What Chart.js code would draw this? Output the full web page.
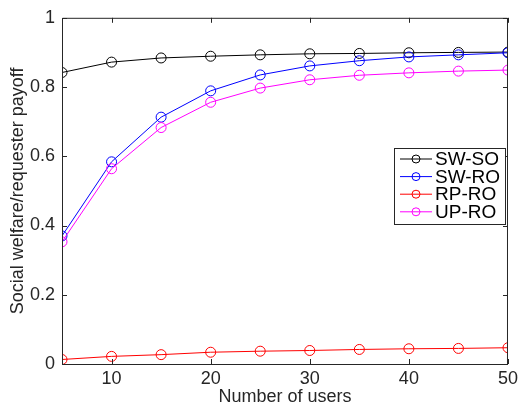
<!DOCTYPE html>
<html>
<head>
<meta charset="utf-8">
<script src="https://cdn.jsdelivr.net/npm/chart.js@4/dist/chart.umd.min.js"></script>
<style>
html,body{margin:0;padding:0;background:#fff;}
#wrap{width:522px;height:413px;position:relative;}
</style>
</head>
<body>
<div id="wrap"><canvas id="c" width="522" height="413"></canvas></div>
<script>
const users = [5, 10, 15, 20, 25, 30, 35, 40, 45, 50];
const swSO = [0.842, 0.872, 0.884, 0.889, 0.893, 0.896, 0.897, 0.899, 0.900, 0.901];
const swRO = [0.370, 0.584, 0.713, 0.789, 0.835, 0.861, 0.876, 0.887, 0.893, 0.899];
const rpRO = [0.013, 0.022, 0.027, 0.034, 0.037, 0.039, 0.042, 0.044, 0.045, 0.047];
const upRO = [0.353, 0.564, 0.683, 0.756, 0.797, 0.821, 0.834, 0.841, 0.846, 0.849];
const xTicks = [10, 20, 30, 40, 50];
const yTicks = [0, 0.2, 0.4, 0.6, 0.8, 1];
const seriesNames = ['SW-SO', 'SW-RO', 'RP-RO', 'UP-RO'];
const seriesColors = ['#000000', '#0000ff', '#ff0000', '#ff00ff'];
const seriesData = [swSO, swRO, rpRO, upRO];

const AX = '#262626';
const FONT = 'Liberation Sans, Arial, Helvetica, sans-serif';

const datasets = seriesData.map((arr, i) => ({
  label: seriesNames[i],
  data: arr.map((v, j) => ({x: users[j], y: v})),
  borderColor: seriesColors[i],
  backgroundColor: 'rgba(0,0,0,0)',
  borderWidth: 1,
  pointRadius: 5,
  pointHoverRadius: 5,
  pointBorderWidth: 1,
  pointBackgroundColor: 'rgba(0,0,0,0)',
  pointBorderColor: seriesColors[i],
  tension: 0,
  order: seriesData.length - i
}));

const boxPlugin = {
  id: 'box',
  afterDatasetsDraw(chart) {
    const {ctx, chartArea: a, scales: {x, y}} = chart;
    ctx.save();
    ctx.strokeStyle = AX;
    ctx.lineWidth = 1;
    ctx.beginPath();
    ctx.rect(a.left + 0.5, a.top + 0.5, a.right - a.left - 1, a.bottom - a.top);
    ctx.stroke();
    const tl = 5;
    ctx.beginPath();
    xTicks.forEach(v => {
      const px = Math.round(x.getPixelForValue(v)) + 0.5;
      ctx.moveTo(px, a.bottom); ctx.lineTo(px, a.bottom - tl);
      ctx.moveTo(px, a.top); ctx.lineTo(px, a.top + tl);
    });
    yTicks.forEach(v => {
      const py = Math.round(y.getPixelForValue(v)) + 0.5;
      ctx.moveTo(a.left, py); ctx.lineTo(a.left + tl, py);
      ctx.moveTo(a.right, py); ctx.lineTo(a.right - tl, py);
    });
    ctx.stroke();

    // legend
    const lx = 394, ly = 148, lw = 111, lh = 76;
    ctx.fillStyle = '#ffffff';
    ctx.fillRect(lx, ly, lw, lh);
    ctx.strokeStyle = AX;
    ctx.lineWidth = 1;
    ctx.strokeRect(lx + 0.5, ly + 0.5, lw, lh);
    ctx.font = '19px ' + FONT;
    ctx.textBaseline = 'middle';
    ctx.textAlign = 'left';
    seriesNames.forEach((name, i) => {
      const cy = ly + 11 + i * 17.6;
      ctx.strokeStyle = seriesColors[i];
      ctx.beginPath();
      ctx.moveTo(lx + 6, cy); ctx.lineTo(lx + 38, cy);
      ctx.stroke();
      ctx.beginPath();
      ctx.arc(lx + 22, cy, 4, 0, Math.PI * 2);
      ctx.stroke();
      ctx.fillStyle = '#000000';
      ctx.fillText(name, lx + 41, cy + 1);
    });
    ctx.restore();
  }
};

new Chart(document.getElementById('c'), {
  type: 'line',
  data: {datasets},
  options: {
    responsive: false,
    animation: false,
    events: [],
    layout: {padding: {left: 0, top: 8, right: 10, bottom: 0}},
    plugins: {legend: {display: false}, tooltip: {enabled: false}},
    scales: {
      x: {
        type: 'linear',
        min: 5, max: 50,
        afterBuildTicks: s => { s.ticks = xTicks.map(v => ({value: v})); },
        afterFit: s => { s.height = 49; },
        grid: {drawOnChartArea: false, drawTicks: false, color: AX},
        border: {display: false},
        ticks: {color: AX, font: {family: FONT, size: 18}, padding: 4, maxRotation: 0, autoSkip: false},
        title: {display: true, text: 'Number of users', color: AX, font: {family: FONT, size: 18}, padding: {top: 0, bottom: 5}}
      },
      y: {
        type: 'linear',
        min: 0, max: 1,
        afterBuildTicks: s => { s.ticks = yTicks.map(v => ({value: v})); },
        afterFit: s => { s.width = 62; },
        grid: {drawOnChartArea: false, drawTicks: false, color: AX},
        border: {display: false},
        ticks: {color: AX, font: {family: FONT, size: 18}, padding: 7,
          callback: v => String(Number(v.toFixed(1)))},
        title: {display: true, text: 'Social welfare/requester payoff', color: AX, font: {family: FONT, size: 18}, padding: {top: 7, bottom: 0}}
      }
    }
  },
  plugins: [boxPlugin]
});
</script>
</body>
</html>
